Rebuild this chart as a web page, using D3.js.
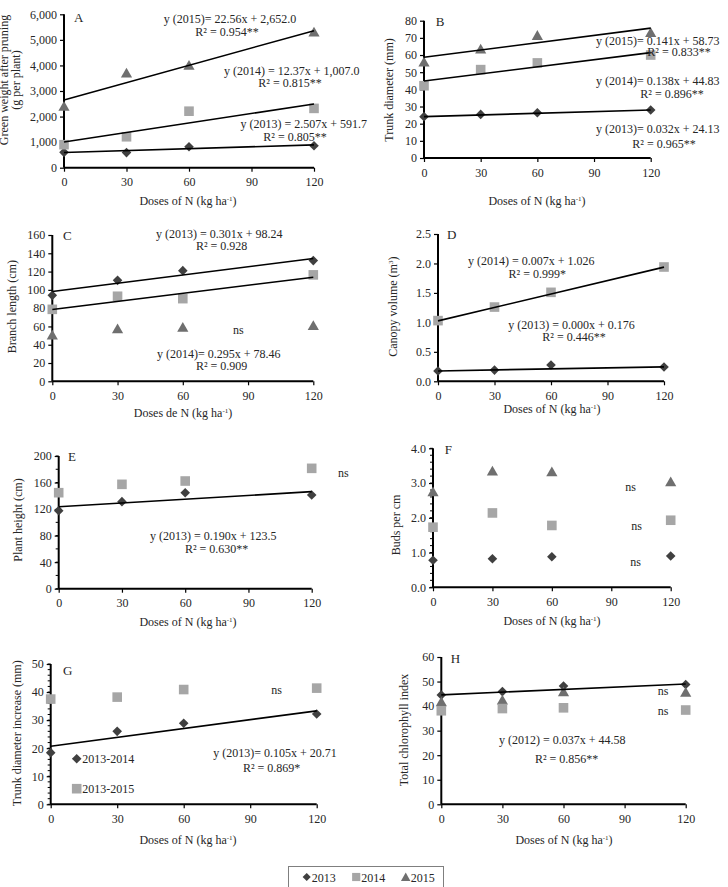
<!DOCTYPE html>
<html>
<head>
<meta charset="utf-8">
<script src="https://cdn.jsdelivr.net/npm/d3@7"></script>
<style>
body { margin: 0; background: #fff; }
text { font-family: "Liberation Serif", "Times New Roman", serif; fill: #262626; }
</style>
</head>
<body>
<svg id="chart" width="728" height="887"></svg>
<script>
// ---- data ----
var doses = [0, 30, 60, 120];
var xTicks = [0, 30, 60, 90, 120];
var legendYears = ["2013", "2014", "2015"];

// A - green weight after pruning
var greenW2013 = [600, 590, 820, 860];
var greenW2014 = [900, 1210, 2210, 2320];
var greenW2015 = [2410, 3710, 4010, 5310];
var greenFit = [[22.56, 2652.0], [12.37, 1007.0], [2.507, 591.7]];

// B - trunk diameter
var trunk2013 = [24.1, 25.4, 26.4, 28.0];
var trunk2014 = [42.1, 51.5, 55.4, 60.0];
var trunk2015 = [56.0, 63.6, 71.5, 73.2];
var trunkFit = [[0.141, 58.73], [0.138, 44.83], [0.032, 24.13]];

// C - branch length
var branch2013 = [94, 110.4, 121, 132];
var branch2014 = [78.7, 93, 90.4, 116.4];
var branch2015 = [50.8, 57.5, 59.2, 61];
var branchFit = [[0.301, 98.24], [0.295, 78.46]];

// D - canopy volume
var canopy2013 = [0.175, 0.19, 0.277, 0.243];
var canopy2014 = [1.03, 1.26, 1.51, 1.94];
var canopyFit = [[0.0076, 1.026], [0.00058, 0.176]];

// E - plant height
var height2013 = [117.6, 131.2, 144.7, 141.2];
var height2014 = [144.7, 157.3, 162.3, 181.4];
var heightFit = [[0.190, 123.5]];

// F - buds per cm
var buds2013 = [0.78, 0.82, 0.88, 0.9];
var buds2014 = [1.73, 2.14, 1.78, 1.93];
var buds2015 = [2.75, 3.35, 3.33, 3.04];

// G - trunk diameter increase
var incr1314 = [18.4, 26.0, 28.9, 32.2];
var incr1315 = [37.5, 38.2, 40.9, 41.4];
var incrFit = [[0.105, 20.71]];

// H - total chlorophyll index
var chlor2013 = [44.5, 45.9, 48.2, 48.8];
var chlor2014 = [38.1, 39.0, 39.3, 38.4];
var chlor2015 = [41.8, 42.5, 45.9, 45.7];
var chlorFit = [[0.037, 44.58]];

var colors = { diamond: "#404040", square: "#a6a6a6", triangle: "#6f6f6f" };

var svg = d3.select("#chart");

function shapePath(shape) {
    if (shape === "diamond") return "M0,-4.8L4.8,0L0,4.8L-4.8,0Z";
    if (shape === "square") return "M-4.8,-4.8H4.8V4.8H-4.8Z";
    return "M0,-5.2L5.6,4.6H-5.6Z";
}

var xLabel = function (g, prep) {
    g.append("tspan").text("Doses " + prep + " N (kg ha");
    g.append("tspan").text("-1").attr("font-size", 7).attr("baseline-shift", "super");
    g.append("tspan").text(")");
};

var panels = [
    { id: "A", x0: 64, x1: 314, top: 14.3, bot: 167.7, yMax: 6000, yStep: 1000, fmt: ",",
      series: [["diamond", greenW2013], ["square", greenW2014], ["triangle", greenW2015]], fits: greenFit,
      yTitle: ["Green weight after pruning", "(g per plant)"], yTitleX: [4, 15.5], yTitleY: 80,
      letter: [74, 17], xTitle: [188, 201], prep: "of",
      notes: [
        [230, 19, "middle", "y (2015)= 22.56x + 2,652.0"], [227, 32, "middle", "R² = 0.954**"],
        [224, 71, "start", "y (2014) = 12.37x + 1,007.0"], [290, 83, "middle", "R² = 0.815**"],
        [240.5, 124, "start", "y (2013) = 2.507x + 591.7"], [295, 137, "middle", "R² = 0.805**"]] },
    { id: "B", x0: 424, x1: 650.7, top: 20.7, bot: 158, yMax: 80, yStep: 10, fmt: "d",
      series: [["diamond", trunk2013], ["square", trunk2014], ["triangle", trunk2015]], fits: trunkFit,
      yTitle: ["Trunk diameter (mm)"], yTitleX: [389], yTitleY: 90,
      letter: [435.7, 21], xTitle: [537, 200.7], prep: "of",
      notes: [
        [596, 40.7, "start", "y  (2015)= 0.141x + 58.73"], [679, 51.7, "middle", "R² = 0.833**"],
        [596, 81, "start", "y  (2014)= 0.138x + 44.83"], [672, 93.7, "middle", "R² = 0.896**"],
        [596, 129, "start", "y  (2013)= 0.032x + 24.13"], [664, 143.3, "middle", "R² = 0.965**"]] },
    { id: "C", x0: 52.3, x1: 313.3, top: 235, bot: 381.3, yMax: 160, yStep: 20, fmt: "d",
      series: [["diamond", branch2013], ["square", branch2014], ["triangle", branch2015]], fits: branchFit,
      yTitle: ["Branch length (cm)"], yTitleX: [11.7], yTitleY: 306.7,
      letter: [63, 235], xTitle: [183, 412.7], prep: "de",
      notes: [
        [156, 234, "start", "y  (2013) = 0.301x + 98.24"], [221.7, 246, "middle", "R² = 0.928"],
        [238.3, 329.3, "middle", "ns"],
        [157, 354, "start", "y  (2014)= 0.295x + 78.46"], [221.7, 366, "middle", "R² = 0.909"]] },
    { id: "D", x0: 438, x1: 664, top: 234, bot: 381.3, yMax: 2.5, yStep: 0.5, fmt: ".1f",
      series: [["diamond", canopy2013], ["square", canopy2014]], fits: canopyFit,
      yTitle: ["Canopy volume (m|3|)"], yTitleX: [392.3], yTitleY: 306.7,
      letter: [447, 234], xTitle: [552, 409], prep: "of",
      notes: [
        [468, 261, "start", "y (2014) = 0.007x + 1.026"], [537.3, 274, "middle", "R² = 0.999*"],
        [508.3, 324.3, "start", "y (2013) = 0.000x + 0.176"], [574, 337, "middle", "R² = 0.446**"]] },
    { id: "E", x0: 58.7, x1: 311.7, top: 456, bot: 588.7, yMax: 200, yStep: 40, minor: 20, fmt: "d",
      series: [["diamond", height2013], ["square", height2014]], fits: heightFit,
      yTitle: ["Plant height (cm)"], yTitleX: [17.7], yTitleY: 520,
      letter: [68, 456], xTitle: [188, 622], prep: "of",
      notes: [
        [343.3, 472.3, "middle", "ns"],
        [150, 535.3, "start", "y (2013) = 0.190x + 123.5"], [216.7, 548.3, "middle", "R² = 0.630**"]] },
    { id: "F", x0: 433, x1: 670.7, top: 448.3, bot: 587.3, yMax: 4, yStep: 1, minor: 0.2, fmt: ".1f",
      series: [["diamond", buds2013], ["square", buds2014], ["triangle", buds2015]], fits: [],
      yTitle: ["Buds per cm"], yTitleX: [395.7], yTitleY: 525,
      letter: [444.7, 449], xTitle: [552, 621], prep: "of",
      notes: [
        [630.7, 486.7, "middle", "ns"], [636.7, 526, "middle", "ns"], [635.7, 561.3, "middle", "ns"]] },
    { id: "G", x0: 50.7, x1: 316.7, top: 664, bot: 804.3, yMax: 50, yStep: 10, minor: 2, fmt: "d",
      series: [["diamond", incr1314], ["square", incr1315]], fits: incrFit,
      yTitle: ["Trunk diameter increase (mm)"], yTitleX: [16.7], yTitleY: 733.3,
      letter: [63, 670.7], xTitle: [188, 840], prep: "of",
      notes: [
        [276.7, 690, "middle", "ns"],
        [213.3, 752.7, "start", "y  (2013)= 0.105x + 20.71"], [271.7, 767.3, "middle", "R² = 0.869*"]],
      inner: [["diamond", "2013-2014", 76.7, 758.7], ["square", "2013-2015", 76.7, 788.7]] },
    { id: "H", x0: 441.3, x1: 685.7, top: 657, bot: 804.3, yMax: 60, yStep: 10, fmt: "d",
      series: [["diamond", chlor2013], ["triangle", chlor2015], ["square", chlor2014]], fits: chlorFit,
      yTitle: ["Total chlorophyll index"], yTitleX: [404], yTitleY: 730,
      letter: [450.7, 658], xTitle: [564, 840], prep: "of",
      notes: [
        [499, 740, "start", "y (2012) = 0.037x + 44.58"], [566.7, 758.3, "middle", "R² = 0.856**"],
        [663, 690.7, "middle", "ns"], [663, 711, "middle", "ns"]] }
];

panels.forEach(function (p) {
    var g = svg.append("g");
    var x = d3.scaleLinear().domain([0, 120]).range([p.x0, p.x1]);
    var y = d3.scaleLinear().domain([0, p.yMax]).range([p.bot, p.top]);

    // minor ticks
    if (p.minor) {
        g.append("g").selectAll("line")
            .data(d3.range(0, p.yMax + p.minor / 2, p.minor))
            .enter().append("line")
            .attr("x1", p.x0 - 3).attr("x2", p.x0)
            .attr("y1", function (d) { return y(d); }).attr("y2", function (d) { return y(d); })
            .attr("stroke", "#000").attr("stroke-width", 1);
    }

    var yTicks = d3.range(0, p.yMax + p.yStep / 2, p.yStep);
    var ya = g.append("g").attr("transform", "translate(" + p.x0 + ",0)")
        .call(d3.axisLeft(y).tickValues(yTicks).tickSize(4).tickPadding(3).tickFormat(d3.format(p.fmt)));
    var xa = g.append("g").attr("transform", "translate(0," + p.bot + ")")
        .call(d3.axisBottom(x).tickValues(xTicks).tickSize(4).tickPadding(6).tickFormat(d3.format("d")));
    [ya, xa].forEach(function (a) {
        a.select(".domain").attr("stroke", "#000").attr("stroke-width", 2);
        a.selectAll(".tick line").attr("stroke", "#000").attr("stroke-width", 1.2);
        a.selectAll(".tick text").attr("font-size", 12).attr("font-family", "Liberation Serif").attr("fill", "#262626");
    });
    // redraw domain lines without the end caps
    ya.select(".domain").attr("d", "M0," + p.top + "V" + p.bot);
    xa.select(".domain").attr("d", "M" + p.x0 + ",0H" + p.x1);

    // markers
    p.series.forEach(function (s) {
        g.append("g").selectAll("path")
            .data(s[1])
            .enter().append("path")
            .attr("d", shapePath(s[0]))
            .attr("transform", function (d, i) { return "translate(" + x(doses[i]) + "," + y(d) + ")"; })
            .attr("fill", colors[s[0]]);
    });

    // linear fits
    p.fits.forEach(function (f) {
        g.append("line")
            .attr("x1", x(0)).attr("y1", y(f[1]))
            .attr("x2", x(120)).attr("y2", y(f[1] + f[0] * 120))
            .attr("stroke", "#000").attr("stroke-width", 1.6);
    });

    // panel letter
    g.append("text").attr("x", p.letter[0]).attr("y", p.letter[1]).attr("dy", "0.35em")
        .attr("font-size", 13).text(p.id);

    // y title
    p.yTitle.forEach(function (t, i) {
        var tx = g.append("text")
            .attr("transform", "translate(" + p.yTitleX[i] + "," + p.yTitleY + ") rotate(-90)")
            .attr("text-anchor", "middle").attr("dy", "0.35em").attr("font-size", 12);
        var parts = t.split("|");
        tx.append("tspan").text(parts[0]);
        if (parts.length > 1) {
            tx.append("tspan").text(parts[1]).attr("font-size", 7).attr("baseline-shift", "super");
            tx.append("tspan").text(parts[2]);
        }
    });

    // x title
    var xt = g.append("text").attr("x", p.xTitle[0]).attr("y", p.xTitle[1]).attr("dy", "0.35em")
        .attr("text-anchor", "middle").attr("font-size", 12);
    xLabel(xt, p.prep);

    // equations and notes
    p.notes.forEach(function (n) {
        g.append("text").attr("x", n[0]).attr("y", n[1]).attr("dy", "0.35em")
            .attr("text-anchor", n[2]).attr("font-size", 12).text(n[3]);
    });

    // in-panel legend (G)
    if (p.inner) {
        p.inner.forEach(function (it) {
            g.append("path").attr("d", shapePath(it[0]))
                .attr("transform", "translate(" + it[2] + "," + it[3] + ")")
                .attr("fill", colors[it[0]]);
            g.append("text").attr("x", it[2] + 5.5).attr("y", it[3]).attr("dy", "0.35em")
                .attr("font-size", 12).text(it[1]);
        });
    }
});

// bottom legend
var legend = svg.append("g");
legend.append("rect").attr("x", 288.5).attr("y", 866.5).attr("width", 155).attr("height", 24)
    .attr("fill", "#fff").attr("stroke", "#7f7f7f").attr("stroke-width", 1);
var legShapes = ["diamond", "square", "triangle"];
var legX = d3.scalePoint().domain(legendYears).range([306.7, 405.7]);
legendYears.forEach(function (yr, i) {
    legend.append("path").attr("d", shapePath(legShapes[i]))
        .attr("transform", "translate(" + legX(yr) + ",877) scale(0.85)")
        .attr("fill", colors[legShapes[i]]);
    legend.append("text").attr("x", legX(yr) + 5).attr("y", 877.3).attr("dy", "0.35em")
        .attr("font-size", 12).text(yr);
});
</script>
</body>
</html>
